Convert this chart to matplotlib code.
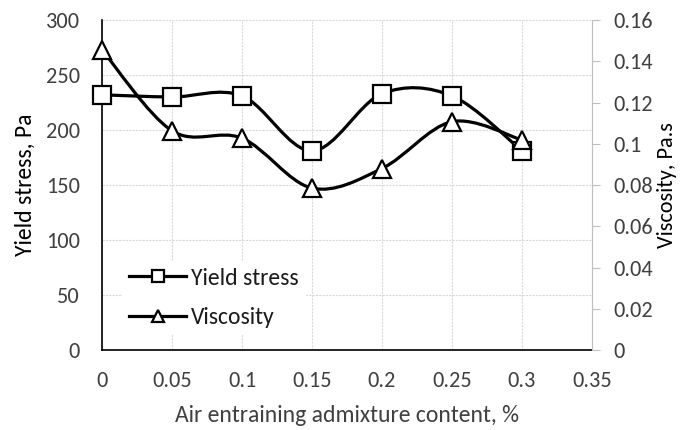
import matplotlib
matplotlib.use("Agg")
import matplotlib.pyplot as plt
from matplotlib.path import Path
import matplotlib.patches as patches

plt.rcParams['font.family'] = ['Carlito', 'Liberation Sans', 'DejaVu Sans']

content = [0, 0.05, 0.1, 0.15, 0.2, 0.25, 0.3]
yield_stress = [232, 230, 231, 181, 233, 231, 181]
viscosity = [0.1455, 0.1063, 0.1027, 0.0785, 0.088, 0.1107, 0.1018]
x_ticks = [0, 0.05, 0.1, 0.15, 0.2, 0.25, 0.3, 0.35]
x_labels = ['0', '0.05', '0.1', '0.15', '0.2', '0.25', '0.3', '0.35']
y_ticks = [0, 50, 100, 150, 200, 250, 300]
y2_ticks = [0, 0.02, 0.04, 0.06, 0.08, 0.1, 0.12, 0.14, 0.16]
y2_labels = ['0', '0.02', '0.04', '0.06', '0.08', '0.1', '0.12', '0.14', '0.16']


def smooth_path(xs, ys):
    # Excel style smoothed line (Catmull-Rom as cubic Bezier)
    verts = [(xs[0], ys[0])]
    codes = [Path.MOVETO]
    n = len(xs)
    for i in range(n - 1):
        x0, y0 = (xs[i - 1], ys[i - 1]) if i > 0 else (xs[i], ys[i])
        x1, y1 = xs[i], ys[i]
        x2, y2 = xs[i + 1], ys[i + 1]
        x3, y3 = (xs[i + 2], ys[i + 2]) if i + 2 < n else (x2, y2)
        c1 = (x1 + (x2 - x0) / 6, y1 + (y2 - y0) / 6)
        c2 = (x2 - (x3 - x1) / 6, y2 - (y3 - y1) / 6)
        verts += [c1, c2, (x2, y2)]
        codes += [Path.CURVE4] * 3
    return Path(verts, codes)


fig = plt.figure(figsize=(6.8, 4.3), dpi=100)
ax = fig.add_axes([0.15, 0.186, 0.7206, 0.7675])
ax2 = ax.twinx()

ax.set_xlim(0, 0.35)
ax.set_ylim(0, 300)
ax2.set_ylim(0, 0.16)

ax.add_patch(patches.PathPatch(smooth_path(content, yield_stress), fill=False,
                               lw=2.3, edgecolor='black', zorder=3))
ax2.add_patch(patches.PathPatch(smooth_path(content, viscosity), fill=False,
                                lw=2.3, edgecolor='black', zorder=3))
ax.plot(content, yield_stress, ls='none', marker='s', ms=12.5, mfc='white',
        mec='black', mew=1.6, zorder=4, clip_on=False)
ax2.plot(content, viscosity, ls='none', marker='^', ms=12.5, mfc='white',
         mec='black', mew=1.6, zorder=4, clip_on=False)

ax.set_xticks(x_ticks)
ax.set_xticklabels(x_labels)
ax.set_yticks(y_ticks)
ax2.set_yticks(y2_ticks)
ax2.set_yticklabels(y2_labels)

ax.grid(True, color='#d9d9d9', lw=0.8, ls=(0, (2, 1)))
ax.tick_params(axis='x', length=0, labelsize=16, colors='#404040', pad=15)
ax.tick_params(axis='y', length=0, labelsize=16, colors='#404040', pad=16)
ax2.tick_params(axis='y', length=5.5, width=0.8, color='#bfbfbf', labelsize=16,
                labelcolor='#404040', pad=10)

for s in ['top', 'right']:
    ax.spines[s].set_visible(False)
ax.spines['left'].set_color('black')
ax.spines['bottom'].set_color('black')
ax.spines['left'].set_linewidth(1.2)
ax.spines['bottom'].set_linewidth(1.2)
ax2.spines['top'].set_visible(False)
ax2.spines['left'].set_visible(False)
ax2.spines['bottom'].set_visible(False)
ax2.spines['right'].set_color('#bfbfbf')

ax.set_xlabel('Air entraining admixture content, %', fontsize=17, color='#404040', va='center')
ax.set_ylabel('Yield stress, Pa', fontsize=17, color='black', va='center')
ax2.set_ylabel('Viscosity, Pa.s', fontsize=16, color='black', va='center')
ax.xaxis.set_label_coords(0.5, -0.197)
ax.yaxis.set_label_coords(-0.157, 0.5)
ax2.yaxis.set_label_coords(1.153, 0.5)

h1l, = ax.plot([], [], color='black', lw=2.3, marker='s', ms=9, mfc='white', mec='black', mew=1.6)
h2l, = ax.plot([], [], color='black', lw=2.3, marker='^', ms=9, mfc='white', mec='black', mew=1.6)
leg = ax2.legend([h1l, h2l], ['Yield stress', 'Viscosity'], loc='center left',
                 bbox_to_anchor=(0.041, 0.158), borderaxespad=0, frameon=True, fancybox=False,
                 edgecolor='none', facecolor='white', framealpha=1,
                 fontsize=17, handlelength=2.4, handletextpad=0.22, labelspacing=0.78,
                 borderpad=0.3)
for t in leg.get_texts():
    t.set_color('#1a1a1a')

fig.savefig('out.png', dpi=100)
